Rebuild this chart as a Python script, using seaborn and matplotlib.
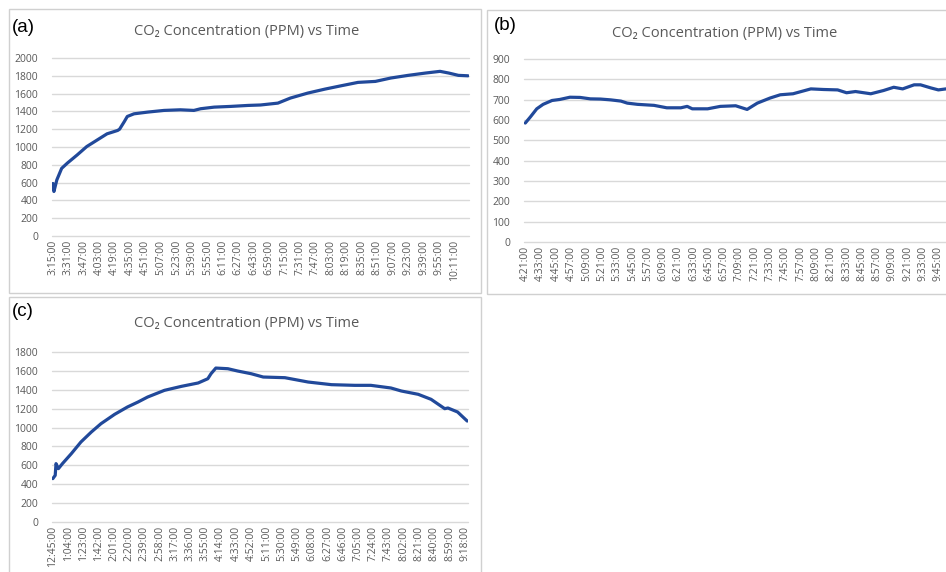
import matplotlib
matplotlib.use("Agg")
import matplotlib.pyplot as plt
import numpy as np
import seaborn as sns
from matplotlib.patches import Rectangle

# readings taken off the three Excel charts (minutes since first sample, ppm)
a_minutes = [0, 1, 4, 9, 15, 25, 35, 46, 56, 67, 69, 74, 77, 84, 98, 115, 132, 146, 153,
             167, 184, 202, 215, 233, 246, 264, 282, 299, 316, 334, 350, 368, 386, 401,
             410, 420, 430]
a_ppm = [590, 500, 630, 760, 820, 910, 1005, 1080, 1148, 1186, 1200, 1287, 1343, 1373,
         1392, 1411, 1418, 1411, 1430, 1448, 1456, 1467, 1472, 1493, 1550, 1606, 1651,
         1689, 1726, 1737, 1775, 1805, 1831, 1850, 1831, 1805, 1800]
a_ticks = ["3:15:00", "3:31:00", "3:47:00", "4:03:00", "4:19:00", "4:35:00", "4:51:00",
           "5:07:00", "5:23:00", "5:39:00", "5:55:00", "6:11:00", "6:27:00", "6:43:00",
           "6:59:00", "7:15:00", "7:31:00", "7:47:00", "8:03:00", "8:19:00", "8:35:00",
           "8:51:00", "9:07:00", "9:23:00", "9:39:00", "9:55:00", "10:11:00"]

b_minutes = [0, 4, 9, 14, 21, 27, 35, 43, 51, 59, 67, 75, 80, 88, 101, 111, 122, 127,
             131, 143, 153, 165, 174, 182, 192, 200, 210, 224, 234, 245, 252, 259, 271,
             281, 289, 296, 305, 310, 318, 324, 330]
b_ppm = [585, 615, 655, 677, 696, 701, 712, 711, 704, 703, 699, 693, 683, 677, 672, 660,
         660, 667, 655, 655, 667, 670, 652, 683, 708, 724, 729, 753, 750, 748, 734, 740,
         729, 745, 761, 753, 773, 773, 758, 748, 753]
b_ticks = ["4:21:00", "4:33:00", "4:45:00", "4:57:00", "5:09:00", "5:21:00", "5:33:00",
           "5:45:00", "5:57:00", "6:09:00", "6:21:00", "6:33:00", "6:45:00", "6:57:00",
           "7:09:00", "7:21:00", "7:33:00", "7:45:00", "7:57:00", "8:09:00", "8:21:00",
           "8:33:00", "8:45:00", "8:57:00", "9:09:00", "9:21:00", "9:33:00", "9:45:00"]

c_minutes = [0, 3, 4, 7, 12, 23, 35, 48, 60, 77, 93, 106, 118, 139, 160, 181, 193, 197,
             203, 218, 230, 247, 262, 289, 318, 347, 376, 396, 421, 434, 455, 471, 488,
             492, 504, 516]
c_ppm = [459, 494, 618, 565, 618, 723, 847, 953, 1041, 1140, 1218, 1270, 1323, 1394,
         1436, 1472, 1517, 1570, 1630, 1623, 1599, 1570, 1535, 1528, 1482, 1454, 1447,
         1447, 1419, 1387, 1352, 1299, 1200, 1207, 1165, 1069]
c_ticks = ["12:45:00", "1:04:00", "1:23:00", "1:42:00", "2:01:00", "2:20:00", "2:39:00",
           "2:58:00", "3:17:00", "3:36:00", "3:55:00", "4:14:00", "4:33:00", "4:52:00",
           "5:11:00", "5:30:00", "5:49:00", "6:08:00", "6:27:00", "6:46:00", "7:05:00",
           "7:24:00", "7:43:00", "8:02:00", "8:21:00", "8:40:00", "8:59:00", "9:18:00"]

sns.set_style("white")
plt.rcParams["font.family"] = ["Open Sans", "DejaVu Sans"]

W, H = 946, 572
fig = plt.figure(figsize=(W / 100, H / 100), dpi=100)

line_color = "#21499A"
grid_color = "#D9D9D9"
text_color = "#595959"
title = "CO\u2082 Concentration (PPM) vs Time"


def px_axes(left, top, right, bottom):
    return fig.add_axes([left / W, 1 - bottom / H, (right - left) / W, (bottom - top) / H])


def panel_box(left, top, right, bottom):
    fig.patches.append(Rectangle((left / W, 1 - bottom / H), (right - left) / W,
                                 (bottom - top) / H, transform=fig.transFigure,
                                 fill=False, edgecolor="#D0D0D0", linewidth=1))


def draw(ax, minutes, ppm, ticks, step, xlim, ymax, ystep):
    sns.lineplot(x=minutes, y=ppm, ax=ax, color=line_color, linewidth=2.3)
    ax.set_xlim(*xlim)
    ax.set_ylim(0, ymax)
    ax.set_yticks(np.arange(0, ymax + 1, ystep))
    ax.set_xticks(np.arange(len(ticks)) * step)
    ax.set_xticklabels(ticks, rotation=90)
    ax.grid(axis="y", color=grid_color, linewidth=1)
    ax.set_axisbelow(True)
    for s in ax.spines.values():
        s.set_visible(False)
    ax.tick_params(axis="both", length=0, labelsize=7.5, colors=text_color)
    ax.tick_params(axis="y", pad=10)
    ax.tick_params(axis="x", pad=3)
    for g in ax.get_ygridlines():
        g.set_clip_on(False)


panel_box(9, 9, 481, 293)
panel_box(487, 10, 960, 294)
panel_box(9, 297, 481, 590)

ax_a = px_axes(52, 58, 469, 236)
draw(ax_a, a_minutes, a_ppm, a_ticks, 16, (-1, 431), 2000, 200)
ax_b = px_axes(524, 59, 946, 242)
draw(ax_b, b_minutes, b_ppm, b_ticks, 12, (-1, 330), 900, 100)
ax_c = px_axes(52, 352, 468, 522)
draw(ax_c, c_minutes, c_ppm, c_ticks, 19, (-1, 517), 1800, 200)

for cx, cy in [(247, 32), (725, 33), (247, 323)]:
    fig.text(cx / W, 1 - cy / H, title, ha="center", va="center", fontsize=10.5,
             color=text_color)

for lx, ly, lab in [(12, 27, "(a)"), (494, 26, "(b)"), (12, 312, "(c)")]:
    fig.text(lx / W, 1 - ly / H, lab, ha="left", va="center", fontsize=13.5,
             color="black", family=["Liberation Sans", "DejaVu Sans"])

fig.savefig("out.png", dpi=100, facecolor="white")
